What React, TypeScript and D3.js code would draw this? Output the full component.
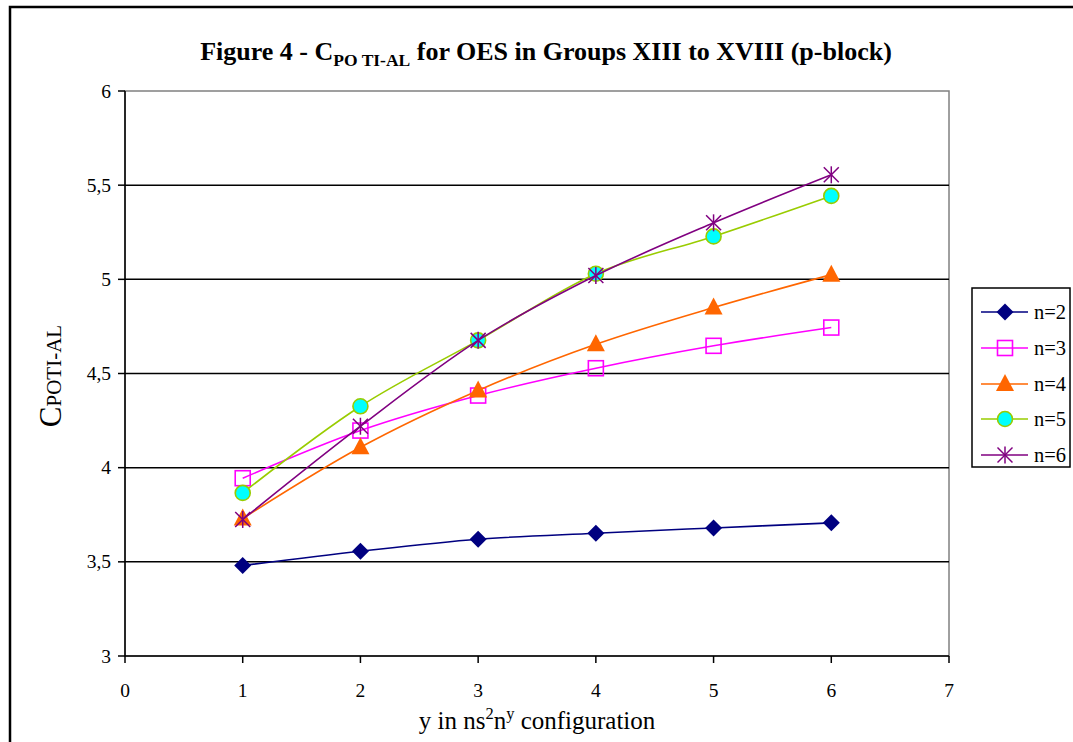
import React from "react";
import * as d3 from "d3";

const xValues = [1, 2, 3, 4, 5, 6];
const n2 = [3.48, 3.556, 3.62, 3.652, 3.68, 3.707];
const n3 = [3.944, 4.197, 4.383, 4.528, 4.647, 4.744];
const n4 = [3.73, 4.108, 4.41, 4.655, 4.85, 5.025];
const n5 = [3.866, 4.326, 4.676, 5.03, 5.228, 5.443];
const n6 = [3.725, 4.22, 4.676, 5.02, 5.3, 5.555];
const seriesNames = ["n=2", "n=3", "n=4", "n=5", "n=6"];
const xTicks = [0, 1, 2, 3, 4, 5, 6, 7];
const yTicks = [3, 3.5, 4, 4.5, 5, 5.5, 6];

const styles = [
  { line: "#000080", fill: "#000080", stroke: "none", shape: "diamond" },
  { line: "#FF00FF", fill: "none", stroke: "#FF00FF", shape: "square" },
  { line: "#FF6600", fill: "#FF6600", stroke: "none", shape: "triangle" },
  { line: "#99CC00", fill: "#00FFFF", stroke: "#99CC00", shape: "circle" },
  { line: "#800080", fill: "none", stroke: "#800080", shape: "star" },
];

function Marker({ shape, x, y, fill, stroke }: any) {
  if (shape === "diamond") {
    const s = 8.5;
    return <path d={`M${x},${y - s}L${x + s},${y}L${x},${y + s}L${x - s},${y}Z`} fill={fill} />;
  }
  if (shape === "square") {
    return <rect x={x - 7.5} y={y - 7.5} width={15} height={15} fill="none" stroke={stroke} strokeWidth={1.6} />;
  }
  if (shape === "triangle") {
    return <path d={`M${x},${y - 10}L${x + 9},${y + 7}L${x - 9},${y + 7}Z`} fill={fill} />;
  }
  if (shape === "circle") {
    return <circle cx={x} cy={y} r={7.5} fill={fill} stroke={stroke} strokeWidth={1.6} />;
  }
  const s = 7.5;
  return (
    <g stroke={stroke} strokeWidth={1.5}>
      <line x1={x} y1={y - s - 1} x2={x} y2={y + s + 1} />
      <line x1={x - s} y1={y - s} x2={x + s} y2={y + s} />
      <line x1={x - s} y1={y + s} x2={x + s} y2={y - s} />
    </g>
  );
}

export default function App() {
  const W = 1073, H = 742;
  const left = 125, right = 949, top = 91, bottom = 656;
  const x = d3.scaleLinear().domain([0, 7]).range([left, right]);
  const y = d3.scaleLinear().domain([3, 6]).range([bottom, top]);
  const all = [n2, n3, n4, n5, n6];
  const line = d3
    .line<number>()
    .x((_, i) => x(xValues[i]))
    .y((d) => y(d))
    .curve(d3.curveCatmullRom.alpha(0));
  const font = "Liberation Serif, Times New Roman, serif";
  const legendY = [312, 348, 384, 419, 455];
  return (
    <svg width={W} height={H} style={{ position: "absolute", left: 0, top: 0 }} fontFamily={font}>
      <rect x={0} y={0} width={W} height={H} fill="#fff" />
      <rect x={10} y={7} width={W + 20} height={H + 20} fill="none" stroke="#000" strokeWidth={2.5} />
      <text x={546} y={60} textAnchor="middle" fontSize={26} fontWeight="bold">
        Figure 4 - C
        <tspan fontSize={17.5} dy={6}>PO TI-AL</tspan>
        <tspan dy={-6}> for OES in Groups XIII to XVIII (p-block)</tspan>
      </text>
      {/* plot border */}
      <rect x={left} y={top} width={right - left} height={bottom - top} fill="none" stroke="#808080" strokeWidth={1.5} />
      {yTicks.filter((t) => t > 3 && t < 6).map((t) => (
        <line key={t} x1={left} x2={right} y1={y(t)} y2={y(t)} stroke="#000" strokeWidth={1.5} />
      ))}
      {/* axes */}
      <line x1={left} x2={left} y1={top} y2={bottom} stroke="#000" strokeWidth={1.5} />
      <line x1={left} x2={right} y1={bottom} y2={bottom} stroke="#000" strokeWidth={1.5} />
      {yTicks.map((t) => (
        <g key={t}>
          <line x1={left - 7} x2={left} y1={y(t)} y2={y(t)} stroke="#000" strokeWidth={1.5} />
          <text x={left - 14} y={y(t) + 6.5} textAnchor="end" fontSize={19.5}>
            {String(t).replace(".", ",")}
          </text>
        </g>
      ))}
      {xTicks.map((t) => (
        <g key={t}>
          <line x1={x(t)} x2={x(t)} y1={bottom} y2={bottom + 7} stroke="#000" strokeWidth={1.5} />
          <text x={x(t)} y={bottom + 41} textAnchor="middle" fontSize={19.5}>
            {t}
          </text>
        </g>
      ))}
      <text x={537} y={729} textAnchor="middle" fontSize={25}>
        y in ns<tspan dy={-10} fontSize={16.5}>2</tspan>
        <tspan dy={10}>n</tspan>
        <tspan dy={-10} fontSize={16.5}>y</tspan>
        <tspan dy={10}> configuration</tspan>
      </text>
      <text transform={`translate(61,376) rotate(-90)`} textAnchor="middle" fontSize={31}>
        C<tspan fontSize={21}>POTI-AL</tspan>
      </text>
      {all.map((vals, si) => (
        <g key={si}>
          <path d={line(vals) || ""} fill="none" stroke={styles[si].line} strokeWidth={1.6} />
          {vals.map((v, i) => (
            <Marker key={i} shape={styles[si].shape} x={x(xValues[i])} y={y(v)} fill={styles[si].fill} stroke={styles[si].stroke} />
          ))}
        </g>
      ))}
      {/* legend */}
      <rect x={972} y={288} width={98} height={179} fill="#fff" stroke="#000" strokeWidth={1.5} />
      {seriesNames.map((name, si) => (
        <g key={name}>
          <line x1={981} x2={1028} y1={legendY[si]} y2={legendY[si]} stroke={styles[si].line} strokeWidth={1.6} />
          <Marker shape={styles[si].shape} x={1005} y={legendY[si]} fill={styles[si].fill} stroke={styles[si].stroke} />
          <text x={1034} y={legendY[si] + 7} fontSize={20.5}>
            {name}
          </text>
        </g>
      ))}
    </svg>
  );
}
